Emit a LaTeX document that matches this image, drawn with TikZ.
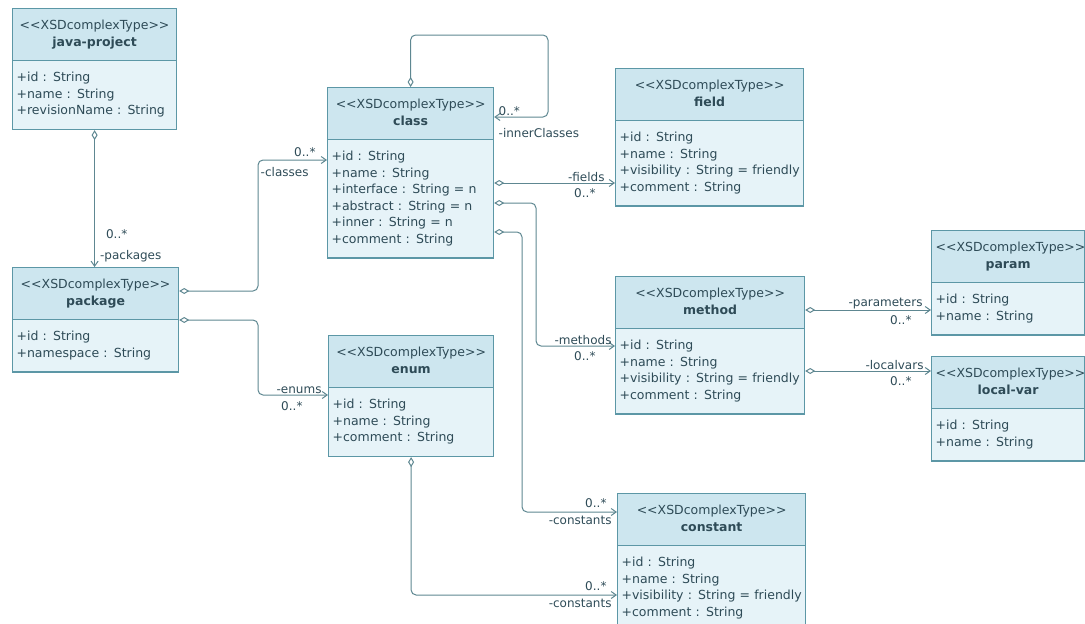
\documentclass[tikz,border=0pt]{standalone}
\usepackage{fontspec}
\usepackage{xcolor}
\usepackage{tikz}
\usetikzlibrary{shapes.multipart,arrows.meta,calc}
\newfontfamily\umlfont{DejaVu Sans}
\definecolor{hdrfill}{HTML}{CDE6EF}
\definecolor{bodyfill}{HTML}{E6F3F8}
\definecolor{boxline}{HTML}{5C97A6}
\definecolor{txtc}{HTML}{2E4B57}
\definecolor{linkc}{HTML}{5E8791}
\newcommand{\xsdhead}[1]{\centering\strut<<XSDcomplexType>>\\\textbf{#1}\strut\par}
\newcommand{\attr}[1]{\mbox{\strut+#1}}
\tikzset{
 xsd/.style={rectangle split, rectangle split parts=2, draw=boxline, line width=1.2pt,
  rectangle split part fill={hdrfill,bodyfill},
  anchor=north west, inner xsep=4pt, inner ysep=9pt, text=txtc,
  font={\umlfont\fontsize{12.5}{16.5}\selectfont}},
 assoc/.style={draw=linkc, line width=1pt, rounded corners=5pt,
  {Diamond[open,length=10pt,width=6pt]}-{Straight Barb[length=5pt,width=7pt]}},
 lbl/.style={text=txtc, inner sep=1pt, font={\umlfont\fontsize{12}{14}\selectfont}}
}
\begin{document}
\begin{tikzpicture}[x=1pt,y=-1pt]
 \useasboundingbox (0,0) rectangle (1085,624);
 \clip (0,0) rectangle (1085,624);
 % types
 \node[xsd, text width=156pt] (jproj) at (12,8) {\xsdhead{java-project}\nodepart{two}\attr{id : String}\\\attr{name : String}\\\attr{revisionName : String}};
 \node[xsd, text width=158pt] (pkg) at (12,267) {\xsdhead{package}\nodepart{two}\attr{id : String}\\\attr{namespace : String}};
 \node[xsd, text width=158pt] (cls) at (327,87) {\xsdhead{class}\nodepart{two}\attr{id : String}\\\attr{name : String}\\\attr{interface : String = n}\\\attr{abstract : String = n}\\\attr{inner : String = n}\\\attr{comment : String}};
 \node[xsd, text width=157pt] (enm) at (328,335) {\xsdhead{enum}\nodepart{two}\attr{id : String}\\\attr{name : String}\\\attr{comment : String}};
 \node[xsd, text width=180pt] (fld) at (615,68) {\xsdhead{field}\nodepart{two}\attr{id : String}\\\attr{name : String}\\\attr{visibility : String = friendly}\\\attr{comment : String}};
 \node[xsd, text width=181pt] (mth) at (615,276) {\xsdhead{method}\nodepart{two}\attr{id : String}\\\attr{name : String}\\\attr{visibility : String = friendly}\\\attr{comment : String}};
 \node[xsd, text width=180pt] (cst) at (617,493) {\xsdhead{constant}\nodepart{two}\attr{id : String}\\\attr{name : String}\\\attr{visibility : String = friendly}\\\attr{comment : String}};
 \node[xsd, text width=145pt] (prm) at (931,230) {\xsdhead{param}\nodepart{two}\attr{id : String}\\\attr{name : String}};
 \node[xsd, text width=145pt] (lvar) at (931,356) {\xsdhead{local-var}\nodepart{two}\attr{id : String}\\\attr{name : String}};
 \coordinate (loopc) at (548,35);
 % associations
 \draw[assoc] (jproj.south) -- (jproj.south |- pkg.north)
  node[lbl, pos=0.76, anchor=west, xshift=10pt] {0..*}
  node[lbl, pos=0.92, anchor=west, xshift=4pt] {-packages};
 \draw[assoc] ([yshift=-24pt]pkg.north east) -| ([xshift=-69pt,yshift=-73pt]cls.north west) -- ([yshift=-73pt]cls.north west)
  node[lbl, pos=1, anchor=south east, xshift=-10pt, yshift=2pt] {0..*}
  node[lbl, pos=1, anchor=north east, xshift=-17pt, yshift=-6pt] {-classes};
 \draw[assoc] ([yshift=-53pt]pkg.north east) -| ([xshift=-70pt,yshift=-60pt]enm.north west) -- ([yshift=-60pt]enm.north west)
  node[lbl, pos=1, anchor=south east, xshift=-5pt] {-enums}
  node[lbl, pos=1, anchor=north east, xshift=-24pt, yshift=-5pt] {0..*};
 \draw[assoc] (cls.north) |- (loopc) |- ([yshift=-30pt]cls.north east)
  node[lbl, pos=1, anchor=south west, xshift=3pt] {0..*}
  node[lbl, pos=1, anchor=north west, xshift=3pt, yshift=-10pt] {-innerClasses};
 \draw[assoc] ([yshift=-96pt]cls.north east) -- ([yshift=-115pt]fld.north west)
  node[lbl, pos=1, anchor=south east, xshift=-9pt] {-fields}
  node[lbl, pos=1, anchor=north east, xshift=-18pt, yshift=-4pt] {0..*};
 \draw[assoc] ([yshift=-116pt]cls.north east) -| ([xshift=-79pt,yshift=-70pt]mth.north west) -- ([yshift=-70pt]mth.north west)
  node[lbl, pos=1, anchor=south east, xshift=-2pt] {-methods}
  node[lbl, pos=1, anchor=north east, xshift=-18pt, yshift=-4pt] {0..*};
 \draw[assoc] ([yshift=-145pt]cls.north east) -| ([xshift=-95pt,yshift=-19pt]cst.north west) -- ([yshift=-19pt]cst.north west)
  node[lbl, pos=1, anchor=south east, xshift=-9pt, yshift=3pt] {0..*}
  node[lbl, pos=1, anchor=north east, xshift=-4pt, yshift=-3pt] {-constants};
 \draw[assoc] (enm.south) |- ([yshift=-102pt]cst.north west)
  node[lbl, pos=1, anchor=south east, xshift=-9pt, yshift=3pt] {0..*}
  node[lbl, pos=1, anchor=north east, xshift=-4pt, yshift=-3pt] {-constants};
 \draw[assoc] ([yshift=-34pt]mth.north east) -- ([yshift=-80pt]prm.north west)
  node[lbl, pos=1, anchor=south east, xshift=-7pt] {-parameters}
  node[lbl, pos=1, anchor=north east, xshift=-18pt, yshift=-4pt] {0..*};
 \draw[assoc] ([yshift=-95pt]mth.north east) -- ([yshift=-15pt]lvar.north west)
  node[lbl, pos=1, anchor=south east, xshift=-6pt] {-localvars}
  node[lbl, pos=1, anchor=north east, xshift=-18pt, yshift=-4pt] {0..*};
\end{tikzpicture}
\end{document}
